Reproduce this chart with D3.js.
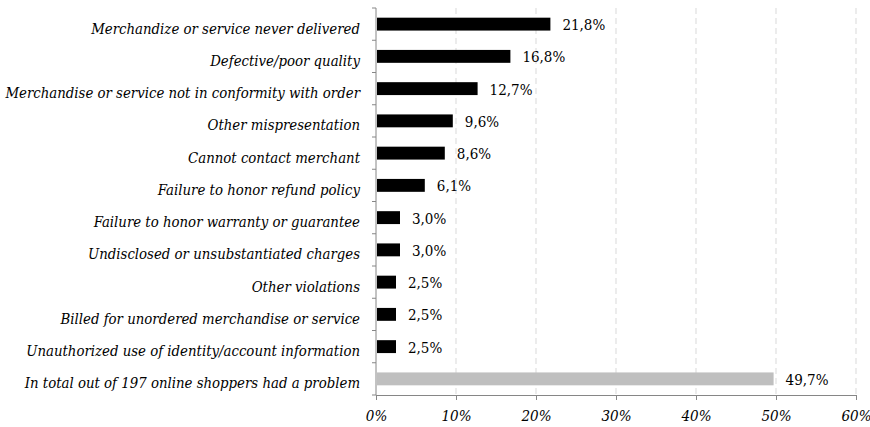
<!DOCTYPE html>
<html>
<head>
<meta charset="utf-8">
<script src="https://cdn.jsdelivr.net/npm/d3@7"></script>
</head>
<body style="margin:0;background:#fff">
<script>
const categories = [
  "Merchandize or service never delivered",
  "Defective/poor quality",
  "Merchandise or service not in conformity with order",
  "Other mispresentation",
  "Cannot contact merchant",
  "Failure to honor refund policy",
  "Failure to honor warranty or guarantee",
  "Undisclosed or unsubstantiated charges",
  "Other violations",
  "Billed for unordered merchandise or service",
  "Unauthorized use of identity/account information",
  "In total out of 197 online shoppers had a problem"
];
const values = [21.8, 16.8, 12.7, 9.6, 8.6, 6.1, 3.0, 3.0, 2.5, 2.5, 2.5, 49.7];
const xTicks = [0, 10, 20, 30, 40, 50, 60];

const serif = "DejaVu Serif Condensed";

const outerWidth = 870;
const outerHeight = 427;
const margin = { top: 8, right: 14, bottom: 32, left: 376 };
const width = outerWidth - margin.left - margin.right;
const height = outerHeight - margin.top - margin.bottom;

const svg = d3.select("body").append("svg")
  .attr("width", outerWidth)
  .attr("height", outerHeight)
  .style("font-family", serif);

const g = svg.append("g")
  .attr("transform", `translate(${margin.left},${margin.top})`);

// scales
const x = d3.scaleLinear().domain([0, 60]).range([0, width]);
const y = d3.scaleBand().domain(categories).range([0, height]).paddingInner(0.6).paddingOuter(0.3);

// gridlines
g.selectAll(".grid")
  .data(xTicks.slice(1))
  .enter().append("line")
    .attr("x1", d => x(d)).attr("x2", d => x(d))
    .attr("y1", 0).attr("y2", height)
    .attr("stroke", "#d9d9d9")
    .attr("stroke-dasharray", "6,4");

// bars
g.selectAll(".bar")
  .data(values)
  .enter().append("rect")
    .attr("x", 1)
    .attr("y", (d, i) => y(categories[i]))
    .attr("width", d => x(d) - 1)
    .attr("height", y.bandwidth())
    .attr("fill", (d, i) => i === categories.length - 1 ? "#bfbfbf" : "#000");

// value labels
g.selectAll(".val")
  .data(values)
  .enter().append("text")
    .attr("x", d => x(d) + 12)
    .attr("y", (d, i) => y(categories[i]) + y.bandwidth() / 2)
    .attr("dy", "0.4em")
    .style("font-family", serif)
    .style("font-size", "15px")
    .attr("fill", "#000")
    .text(d => d.toFixed(1).replace(".", ",") + "%");

// y axis: line + ticks at band boundaries
const bounds = d3.range(categories.length + 1).map(i => i * height / categories.length);
g.append("line")
  .attr("x1", 0).attr("x2", 0)
  .attr("y1", 0).attr("y2", height)
  .attr("stroke", "#868686");
g.selectAll(".ytick")
  .data(bounds)
  .enter().append("line")
    .attr("x1", -4).attr("x2", 0)
    .attr("y1", d => d).attr("y2", d => d)
    .attr("stroke", "#868686");

// category labels (sit a little low, like the original)
g.selectAll(".cat")
  .data(categories)
  .enter().append("text")
    .attr("x", -16)
    .attr("y", d => y(d) + y.bandwidth() / 2)
    .attr("dy", "0.64em")
    .attr("text-anchor", "end")
    .style("font-family", serif)
    .style("font-size", "14.8px")
    .style("font-style", "italic")
    .attr("fill", "#000")
    .text(d => d);

// x axis
const xAxis = d3.axisBottom(x)
  .tickValues(xTicks)
  .tickFormat(d => d + "%")
  .tickSize(5)
  .tickPadding(10);

const gx = g.append("g")
  .attr("transform", `translate(0,${height})`)
  .call(xAxis);
gx.select(".domain").attr("stroke", "#868686");
gx.selectAll(".tick line").attr("stroke", "#868686");
gx.selectAll(".tick text")
  .style("font-family", serif)
  .style("font-size", "15px")
  .style("font-style", "italic")
  .attr("fill", "#000");
</script>
</body>
</html>
